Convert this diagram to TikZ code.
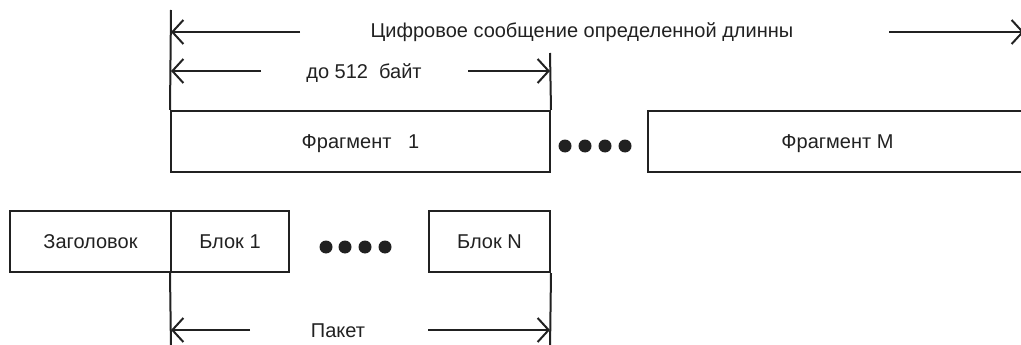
\documentclass[tikz,border=0pt]{standalone}
\usepackage{fontspec}
\setmainfont{Liberation Sans}
\usetikzlibrary{arrows.meta}
\definecolor{ink}{gray}{0.13}
\begin{document}
\begin{tikzpicture}[x=1pt,y=-1pt,
  ln/.style={line width=2pt, draw=ink},
  dim/.style={ln, -{Straight Barb[length=11pt,width=24pt]}},
  lbl/.style={font=\fontsize{20}{23}\selectfont, text=ink, anchor=base, inner sep=0pt},
  fld/.style={ln, rectangle, minimum height=61pt, inner sep=0pt, text height=13.5pt, text depth=0pt,
              font=\fontsize{20}{23}\selectfont, text=ink},
  dotc/.style={circle, fill=ink, minimum size=13pt, inner sep=0pt}]
\clip (0,0) rectangle (1021,345);
% top fragments
\node[fld, minimum width=379pt] (frag1) at (360.5,141.5) {Фрагмент\ \ \ 1};
\node[fld, minimum width=379pt] (fragM) at (837.5,141.5) {Фрагмент М};
% bottom packet
\node[fld, minimum width=161pt] (head) at (90.5,241.5) {Заголовок};
\node[fld, minimum width=118pt] (blk1) at (230,241.5) {Блок 1};
\node[fld, minimum width=121pt] (blkN) at (489.5,241.5) {Блок N};
% dots
\foreach \i/\x in {1/565,2/585,3/605,4/625} \node[dotc] (ta\i) at (\x,146) {};
\foreach \i/\x in {1/326,2/345,3/365,4/385} \node[dotc] (ba\i) at (\x,247) {};
% extension lines
\coordinate (v1) at (171,10);
\coordinate (v2) at (550,53);
\coordinate (v3) at (171,350);
\coordinate (v4) at (550,350);
\draw[ln] (v1) -- (frag1.north west);
\draw[ln] (v2) -- (frag1.north east);
\draw[ln] (blk1.south west) -- (v3);
\draw[ln] (blkN.south east) -- (v4);
% message length
\node[lbl] (msg) at (582,38) {Цифровое сообщение определенной длинны};
\coordinate (m1) at (300,32); \coordinate (m1t) at (171,32);
\coordinate (m2) at (889,32); \coordinate (m2t) at (1024,32);
\draw[dim] (m1) -- (m1t);
\draw[dim] (m2) -- (m2t);
% 512 bytes
\node[lbl] (b512) at (364,79) {до 512\ \ байт};
\coordinate (f1) at (261,71); \coordinate (f1t) at (171,71);
\coordinate (f2) at (468,71); \coordinate (f2t) at (550,71);
\draw[dim] (f1) -- (f1t);
\draw[dim] (f2) -- (f2t);
% packet
\node[lbl] (pkt) at (338,337) {Пакет};
\coordinate (p1) at (250,330); \coordinate (p1t) at (171,330);
\coordinate (p2) at (428,330); \coordinate (p2t) at (550,330);
\draw[dim] (p1) -- (p1t);
\draw[dim] (p2) -- (p2t);
\end{tikzpicture}
\end{document}
